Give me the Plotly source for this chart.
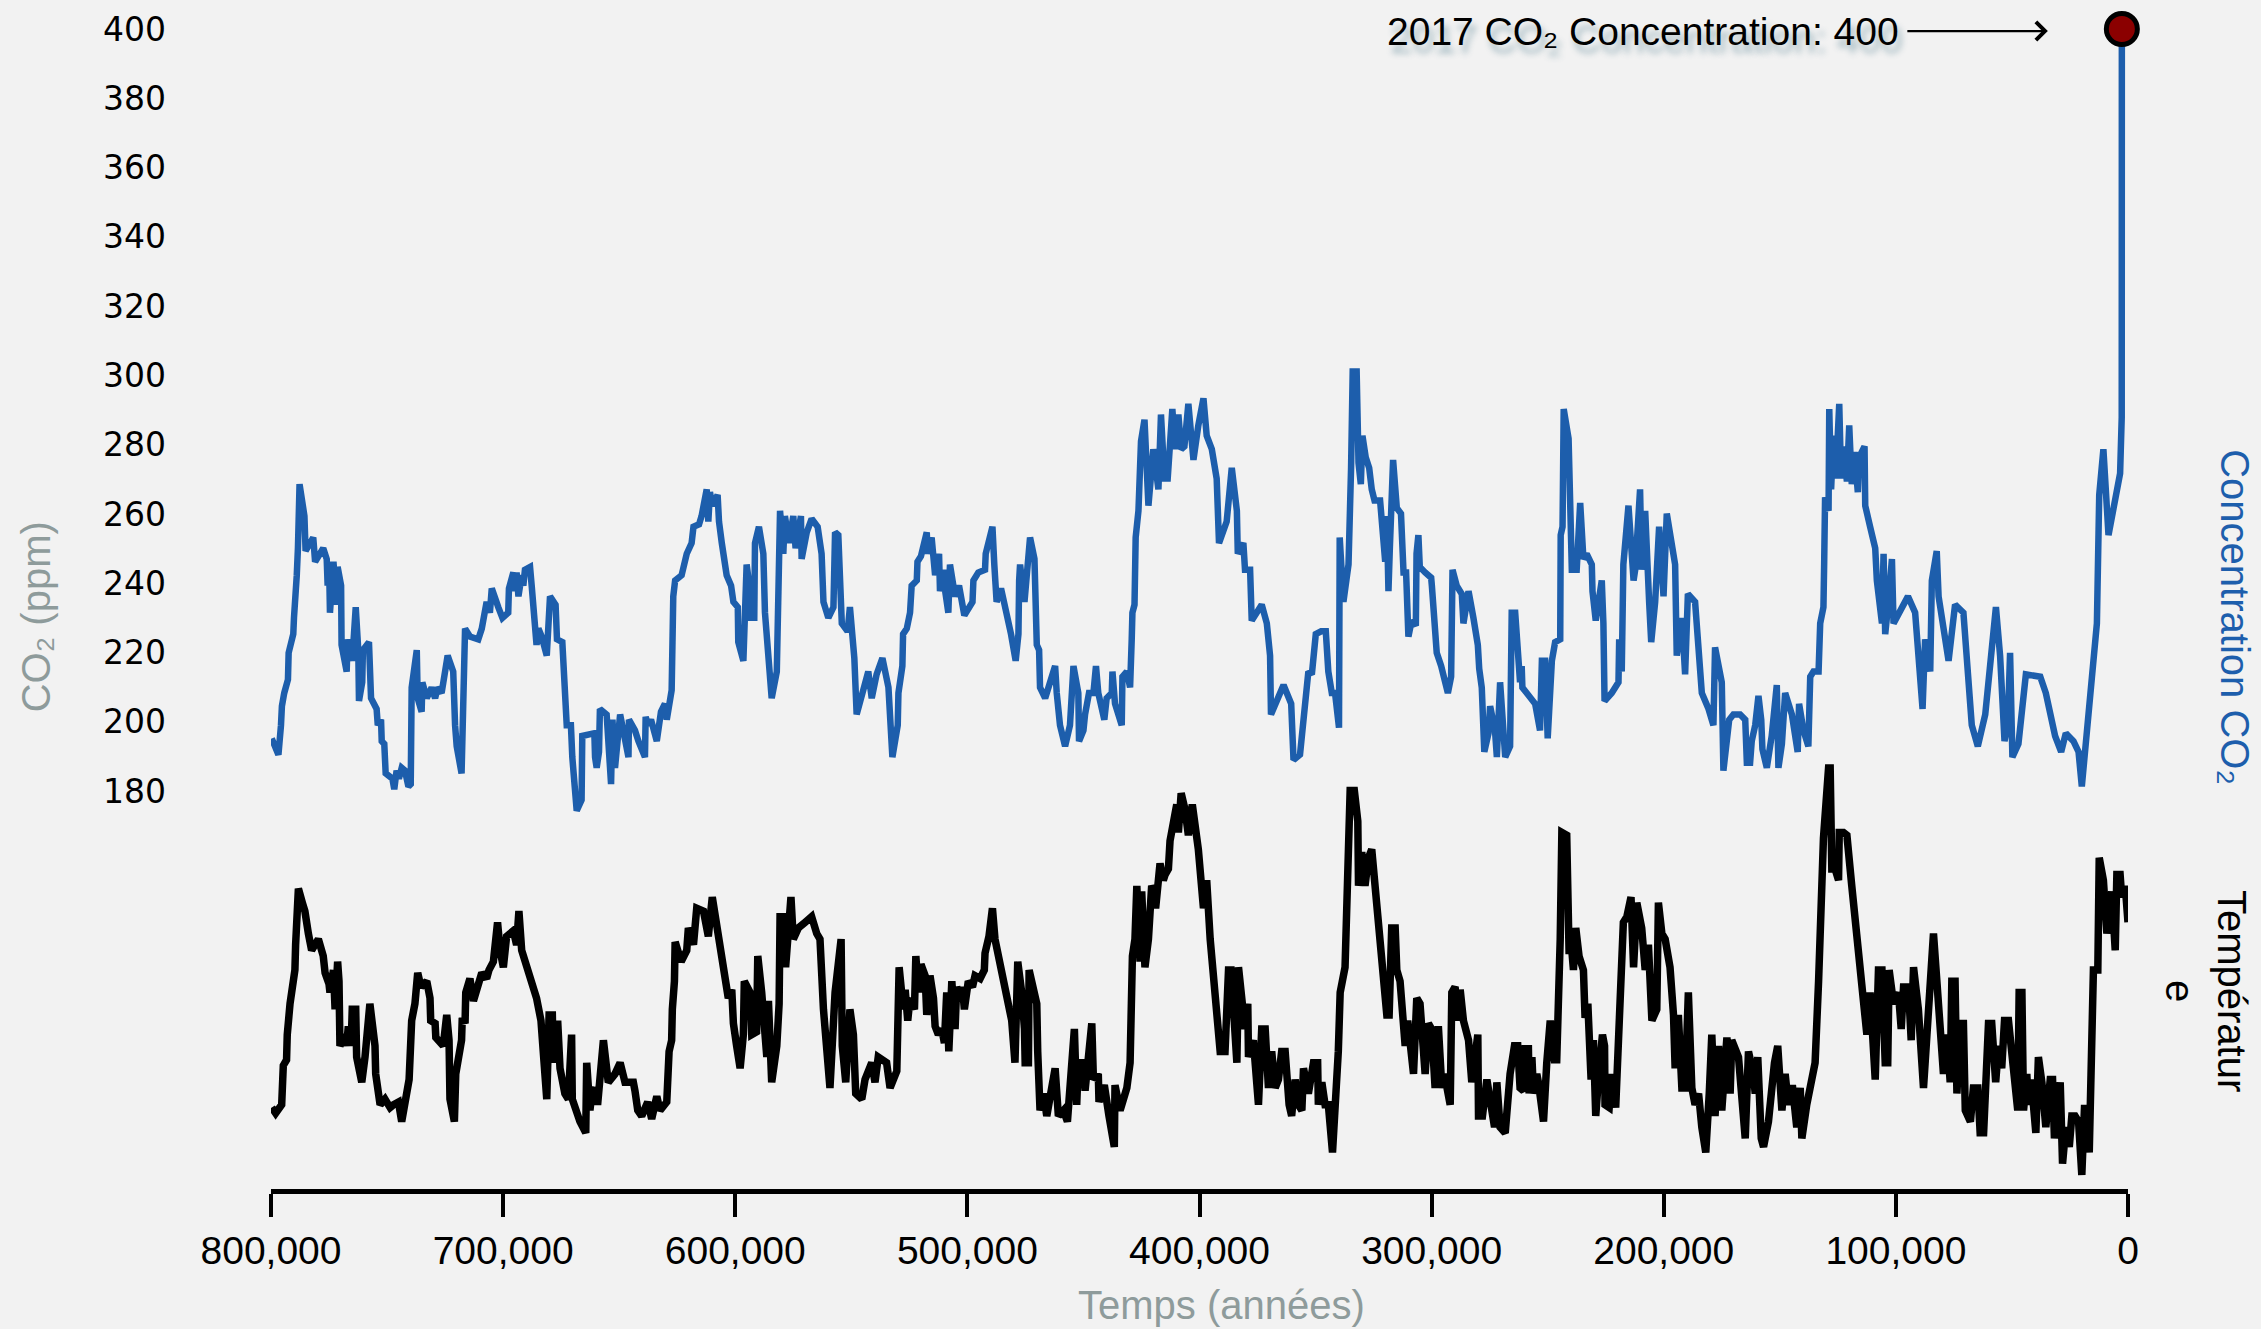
import plotly.graph_objects as go

# ---------------- DATA ----------------
co2_years = [
    799700, 796800, 795700, 795300, 794300, 792700, 792400, 791000, 790400, 790100,
    789400, 788900, 788400, 787700, 785600, 785100, 781800, 781000, 777500, 776000,
    775600, 775000, 774600, 773100, 771700, 771300, 769800, 769600, 767400, 767000,
    765000, 763500, 762400, 762100, 760700, 760400, 757800, 756900, 754500, 754000,
    752600, 752300, 751200, 750600, 747700, 746900, 745900, 744900, 743700, 742300,
    740800, 739800, 739400, 737200, 736800, 735100, 734800, 732900, 730800, 729300,
    728200, 726500, 723900, 721500, 720700, 720000, 717900, 716900, 716400, 714300,
    710700, 709200, 707100, 705700, 704900, 702100, 700300, 697800, 697500, 695600,
    695200, 694200, 693400, 692000, 691300, 690600, 688400, 687700, 686300, 685600,
    684800, 683400, 681200, 679800, 677400, 676800, 674500, 673900, 672600, 670800,
    670200, 668300, 666200, 665900,
    662600, 660700, 660400, 659700, 658700, 658300, 655400, 653500, 652900, 651800,
    649600, 646000, 645800, 643200, 641700, 638900, 638600, 637400, 636300, 633800,
    632000, 630300, 629500, 627400, 626700, 625900, 623100, 620900, 618800, 618000,
    615600, 614500, 612300, 611600, 610900, 609900, 607600, 607000, 605800, 603700,
    601800, 600800, 598900, 598700, 596500, 595100, 593600, 593200, 591800, 591500,
    589800, 587900, 587200, 584300, 582100, 580700, 579300, 578600, 576800, 575000,
    574000, 571700, 571400, 569200, 567100, 564500, 562800, 562000, 559900, 557700,
    557000, 555600, 554100, 551600, 550600, 549500, 548700, 547700, 545200, 542700,
    541200, 539100, 536600,
    535500, 534000, 532300, 530000, 529700, 528000, 527700, 526100, 524700, 524000,
    521800, 521500, 520000, 517500, 517100, 515400, 513900, 512200, 511800, 510300,
    509900, 508200, 507500, 506000, 505300, 503600, 501300, 497800, 497400, 495300,
    492400, 492100, 490900, 489200, 488400, 487400, 485500, 483000, 481200, 479200,
    478000, 477700, 477300, 475400, 473000, 471100, 470100, 469100, 468700, 466500,
    462200, 461500, 460100, 457900, 455800, 454300, 452200, 451900, 450000, 449300,
    447600, 445700, 444600, 443600, 441000, 440000, 437800, 437500, 436400, 433500,
    433200, 431300, 429900, 429200, 428900, 428000, 427500, 426300, 425200, 423700,
    422000, 419900, 417700, 416600, 415100, 413700, 411700, 410500, 409100, 407900,
    406500, 404800, 402600, 400500,
    398300, 396900, 394700, 392600, 391600, 388300, 386100, 383900, 383500, 381100,
    380400, 378200, 377500, 373200, 371000, 369600, 369200, 363800, 360500, 359500,
    356700, 353100, 351600, 349900, 347600, 345600, 344500, 343000, 341600, 339900,
    339600, 338000, 335800, 334700, 334000, 332300, 331500, 330500, 329800, 328400,
    326900, 325800, 324600, 322200, 321200, 320000, 319300, 318600, 318000, 316600,
    315000, 313200, 312100, 311000, 310000, 308600, 306800, 306500, 305700, 305100,
    302800, 300200, 299900, 299400, 297800, 295900, 293000, 291600, 291000, 289200,
    287000, 286300, 284100, 282000, 280100, 279500, 278400, 277300, 275500, 274800,
    272700, 271900, 270500,
    268300, 266200, 265500, 264000, 261900, 261200, 260900, 257600, 255400, 253300,
    252500, 251100, 250000, 248200, 246800, 244600, 244400, 243600, 243100, 241000,
    240300, 239600, 237500, 236000, 234600, 233200, 231000, 230700, 229300, 226700,
    226000, 225500, 222400, 219500, 219200, 218100, 217400, 215200, 213000, 212300,
    210200, 209500, 208000, 206600, 206300, 205400, 203700, 202000, 200100, 198700,
    195100, 194400, 192200, 190800, 189600, 186500, 183600, 180700, 178600, 177900,
    175000, 174300, 171800, 170000, 167100, 164900, 164200, 162800, 162100, 160600,
    159200, 158000, 157500, 155600, 153500, 151300, 150600, 149100, 147700, 144800,
    142300, 141700, 139800, 137700, 136900, 135500,
    133300, 132600, 131200, 130900, 130500, 129000, 128700, 127900, 126900, 125900,
    124400, 123600, 122600, 121100, 120100, 119000, 117800, 116400, 115800, 113500,
    113200, 111100, 108900, 108200, 106000, 105300, 104600, 103200, 101700, 101000,
    94800, 91700, 88500, 87400, 85200, 84500, 82400, 81600, 77300, 74500,
    70900, 67300, 64700, 61500, 59400, 56900, 55100, 53200, 51800, 50800,
    49800, 47200, 44000, 37800, 35400, 31400, 28800, 26800, 23500, 21300,
    19900, 17000, 13400, 12400, 10600, 8400, 5500, 3400, 2700, 2650,
]
co2_ppm = [
    195.2, 190.5, 199.0, 204.5, 208.3, 212.2, 219.9, 223.0, 225.3, 230.0,
    234.6, 242.3, 250.1, 268.6, 259.4, 249.3, 253.2, 246.2, 250.1, 247.0,
    239.3, 246.2, 231.5, 246.2, 233.8, 244.7, 239.3, 222.2, 214.5, 223.8,
    217.6, 233.1, 220.7, 206.0, 211.4, 220.7, 223.0, 206.8, 203.7, 199.0,
    200.6, 194.4, 193.6, 185.1, 183.6, 180.5, 185.9, 183.6, 186.7, 185.9,
    181.3, 182.0, 209.9, 220.7, 206.8, 202.9, 211.4, 206.8, 209.9, 206.8,
    209.9, 208.3, 219.1, 214.5, 199.0, 192.9, 185.1, 208.3, 226.9, 224.6,
    223.8, 226.9, 234.6, 231.5, 238.5, 233.1, 230.0, 231.5, 238.5, 243.1,
    237.7, 243.1, 236.2, 242.3, 239.3, 243.9, 244.7, 239.3, 226.9, 222.2,
    226.9, 224.6, 219.1, 236.2, 233.8, 223.8, 223.0, 213.0, 199.0, 199.0,
    189.8, 174.3, 177.4, 195.9,
    196.7, 196.7, 189.8, 186.7, 191.3, 203.7, 202.1, 182.0, 200.6, 186.7,
    202.1, 189.8, 200.6, 197.5, 194.4, 189.8, 201.4, 199.0, 200.6, 194.4,
    202.9, 205.2, 200.6, 209.1, 236.2, 240.8, 242.3, 248.5, 251.6, 256.3,
    257.0, 259.4, 267.1, 257.8, 266.3, 262.4, 265.5, 257.8, 251.6, 242.3,
    239.3, 234.6, 233.1, 223.0, 217.6, 245.4, 237.7, 230.0, 230.0, 251.6,
    256.3, 248.5, 231.5, 206.8, 214.5, 260.9, 248.5, 259.4, 251.6, 259.4,
    250.1, 259.4, 247.0, 254.7, 258.6, 256.3, 248.5, 234.6, 230.0, 233.1,
    254.7, 253.9, 228.4, 226.1, 233.1, 223.8, 218.4, 202.1, 208.3, 214.5,
    206.8, 213.7, 218.4,
    214.5, 209.9, 189.8, 199.0, 208.3, 216.1, 225.3, 226.9, 231.5, 239.3,
    240.8, 246.2, 247.8, 254.7, 248.5, 253.2, 242.3, 248.5, 237.7, 243.9,
    239.3, 231.5, 245.4, 239.3, 236.2, 239.3, 230.7, 234.6, 240.8, 243.1,
    243.9, 248.5, 251.6, 256.3, 245.4, 234.6, 238.5, 231.5, 225.3, 217.6,
    225.3, 240.8, 245.4, 234.6, 253.2, 247.0, 222.2, 220.7, 209.9, 206.8,
    216.1, 208.3, 199.0, 192.9, 199.0, 216.1, 208.3, 194.4, 197.5, 202.1,
    208.3, 208.3, 216.1, 208.3, 200.6, 206.8, 208.3, 214.5, 205.2, 199.0,
    213.0, 214.5, 209.9, 223.8, 231.5, 233.8, 253.2, 260.9, 281.0, 287.2,
    262.4, 278.7, 267.1, 288.7, 270.2, 270.2, 290.3, 278.7, 288.7, 278.7,
    279.5, 291.8, 275.6, 285.6,
    293.4, 282.6, 278.7, 270.2, 251.6, 257.8, 273.3, 260.9, 248.5, 251.6,
    243.9, 243.9, 229.2, 233.8, 228.4, 219.1, 202.1, 210.6, 205.2, 189.0,
    190.5, 214.5, 213.7, 225.3, 226.1, 226.1, 214.5, 208.3, 208.3, 198.3,
    253.2, 234.6, 245.4, 273.3, 301.1, 301.1, 274.8, 268.6, 282.6, 276.4,
    273.3, 267.1, 263.9, 263.9, 256.3, 246.2, 259.4, 237.7, 250.1, 275.6,
    261.7, 260.1, 243.1, 243.1, 224.6, 229.2, 227.7, 248.5, 253.9, 244.7,
    243.1, 241.6, 239.3, 233.1, 219.9, 216.1, 208.3, 213.0, 243.9, 239.3,
    236.9, 228.4, 237.7, 230.0, 222.2, 215.3, 209.9, 191.3, 196.7, 204.5,
    197.5, 189.8, 211.4,
    189.8, 192.9, 231.5, 231.5, 211.4, 216.1, 209.9, 206.8, 205.2, 197.5,
    217.6, 217.6, 195.2, 217.6, 223.0, 223.8, 253.9, 256.3, 290.3, 281.8,
    251.6, 243.9, 243.9, 263.2, 247.0, 248.5, 245.4, 237.7, 229.2, 240.8,
    228.4, 206.0, 208.3, 211.4, 223.8, 214.5, 245.4, 262.4, 240.8, 243.9,
    267.1, 243.9, 260.9, 245.4, 234.6, 223.0, 234.6, 256.3, 236.2, 260.1,
    245.4, 219.1, 230.0, 213.7, 236.9, 234.6, 208.3, 203.7, 199.0, 221.5,
    211.4, 185.9, 200.6, 202.1, 202.1, 200.6, 188.2, 188.2, 194.4, 199.0,
    207.5, 200.6, 192.1, 186.7, 195.9, 210.6, 186.7, 193.6, 208.3, 202.1,
    191.3, 205.2, 197.5, 192.9, 213.0, 214.5,
    214.5, 228.4, 233.1, 245.4, 264.8, 260.9, 290.3, 267.1, 282.6, 270.2,
    291.8, 270.2, 279.5, 269.4, 285.6, 268.6, 277.9, 266.3, 276.4, 279.5,
    262.4, 256.3, 250.1, 240.8, 228.4, 248.5, 225.3, 234.6, 247.0, 228.4,
    236.2, 231.5, 203.7, 223.8, 214.5, 240.8, 249.3, 236.2, 217.6, 233.8,
    231.5, 199.0, 192.9, 202.1, 214.5, 233.1, 219.1, 194.4, 199.0, 219.9,
    189.8, 193.6, 213.7, 213.0, 208.3, 195.9, 191.3, 196.7, 194.4, 191.3,
    181.3, 203.7, 228.4, 265.5, 278.7, 253.9, 264.0, 271.7, 288.0, 400.0,
]

temp_years = [
    799700, 798000, 795400, 794700, 793300, 793000, 791800, 789700, 789400, 788200,
    786500, 785400, 783900, 782500, 781800, 779600, 777500, 776700, 775000, 774600,
    773100, 772400, 771300, 770700, 770300, 768100, 767400, 766700, 765500, 765000,
    763500, 763100, 760900, 759500, 757400, 755200, 754900, 753000, 750900, 748700,
    747300, 745100, 743700, 741600, 740500, 739400, 738000, 736800, 735400, 732900,
    731500, 731200, 729300, 729000, 727200, 725800, 724300, 723300, 722900, 721000,
    720400, 719300, 717900, 717600, 716400, 716100, 714300, 712800, 710700, 709200,
    707100, 706100, 704200, 703500, 702400, 701300, 699900, 698500, 695600, 694200,
    693200, 692000, 690600, 687700, 685600, 683700, 682700, 681200, 680200, 678800,
    678400, 676500, 675500, 673400, 671900, 670500, 670200, 668300, 666900,
    664400, 664000, 662600, 661800, 660400, 659300, 656800, 654700, 651800, 649600,
    647500, 643900, 643200, 642000, 640300, 637700, 636000, 633800, 632400, 629500,
    628500, 627400, 627100, 626200, 625900, 623300, 620900, 620200, 618000, 616600,
    613700, 611600, 609900, 607600, 605800, 604400, 603000, 601500, 600800, 599400,
    597900, 596500, 596100, 593600, 592900, 590800, 590300, 588600, 587200, 586400,
    585700, 584300, 582100, 581100, 580700, 579300, 578300, 576000, 575000, 572800,
    569900, 567100, 564900, 563500, 562000, 559200, 557000, 554400, 553900, 552400,
    550600, 549100, 548100, 545500, 544100, 541200, 539800, 538400, 534800, 533300,
    530400, 529700, 529400, 527600, 526800, 525700, 524700, 522800, 522200, 521100,
    520000, 518200, 517500, 516100, 514600, 513900, 512500, 511000, 509900, 508900,
    508000, 506700, 505300, 504600, 503100, 502100, 501300, 499600, 497800, 496700,
    494500, 492700, 492400, 490700, 489200, 488100, 486600, 484500, 482600, 480900,
    479500, 478300, 476600, 475400, 475100, 473700, 473400, 470100, 469700, 468700,
    467200, 465800, 462200, 460800, 458600, 456900, 453900, 452900, 452200, 450000,
    449300, 446400, 445700, 443600, 443300, 441000, 439000, 436700, 436400, 434200,
    431300, 429900, 428900, 427800, 427000, 425600, 424900, 423500, 422000, 420600,
    419400, 418900, 417000, 415600, 414800, 413400, 412700, 409800, 409100, 407900,
    406200, 404800, 403100,
    401900, 400500, 398300, 396900, 395400, 391100, 389000, 387500, 386400, 385400,
    383900, 383200, 381100, 380400, 379200, 378900, 376800, 374600, 373200, 371700,
    370300, 368900, 367400, 366000, 364600, 363100, 361400, 360300, 358800, 357400,
    355900, 355200, 353100, 350900, 349100, 348800, 347300, 345900, 344500, 342700,
    340200, 339400, 337300, 335800, 335100, 333300, 331800, 331500, 330100, 328700,
    327200, 325800, 323600, 321500, 319300, 318300, 317200, 315700, 315000, 313600,
    312100, 311400, 310300, 308800, 307800, 306400, 305000, 302800, 301400, 300000,
    298500, 297100, 295600, 294500, 292000, 291300, 289900, 288700, 287700, 286300,
    284100, 282700, 280100, 279800, 278100, 276200, 274800, 272900, 271900, 270500,
    268300,
    266200, 264300, 262900, 261900, 260400, 259700, 258300, 258000, 256800, 256100,
    254700, 254000, 251800, 250400, 248900, 247100, 246100, 244600, 243900, 241800,
    240800, 239600, 238900, 237900, 236500, 234600, 233900, 232700, 231300, 230300,
    229300, 227800, 226400, 225500, 225300, 223500, 222400, 220700, 218800, 217400,
    215900, 214100, 213000, 211600, 209500, 208000, 206600, 205100, 203000, 202300,
    200800, 199400, 197300, 195800, 195100, 193700, 192200, 190800, 189400, 187900,
    186500, 185000, 183600, 181900, 180400, 179300, 177900, 176400, 175000, 172800,
    171400, 170700, 167800, 166100, 164900, 163500, 161400, 160600, 159500, 158000,
    157000, 154900, 153500, 152300, 150900, 149100, 147700, 146300, 144600, 142700,
    141200, 140500, 138400, 136200, 134800, 133300, 132200, 131200,
    129000, 128300, 127600, 126200, 124700, 124400, 122600, 121100, 119000, 116100,
    112500, 111100, 109600, 108900, 107500, 106000, 104600, 103500, 102900, 101000,
    98900, 97700, 96700, 94600, 93400, 92400, 90300, 88100, 83800, 79500,
    78000, 76600, 75900, 74500, 73700, 72300, 70900, 70100, 67900, 66600,
    64700, 63700, 62200, 60100, 58700, 57000, 55800, 54400, 53200, 51500,
    47500, 46900, 45700, 45000, 43600, 42900, 41700, 39700, 38600, 37100,
    35400, 33500, 32500, 31700, 29200, 28200, 26800, 25300, 24200, 22800,
    21300, 19900, 18700, 16700, 14900, 13000, 12400, 10600, 9100, 7000,
    5500, 4800, 3400, 2700, 1200, 0,
]
temp_anomaly = [
    -7.6, -7.8, -7.5, -6.1, -5.9, -5.0, -3.9, -2.7, -1.8, 0.2,
    -0.3, -0.6, -1.4, -2.0, -1.9, -1.6, -2.2, -2.8, -3.2, -3.5,
    -2.7, -4.1, -2.4, -3.1, -5.4, -5.0, -5.4, -4.7, -5.4, -4.1,
    -4.1, -5.8, -6.7, -5.8, -3.9, -5.4, -6.4, -7.5, -7.3, -7.6,
    -7.5, -7.4, -8.1, -7.3, -6.6, -4.5, -3.9, -2.8, -3.3, -3.1,
    -3.7, -4.5, -4.6, -5.1, -5.3, -5.4, -4.3, -5.2, -7.3, -8.1,
    -6.4, -5.7, -5.2, -4.4, -4.6, -3.5, -3.0, -3.8, -3.3, -2.8,
    -3.0, -2.7, -2.4, -1.8, -1.0, -2.0, -2.6, -1.5, -1.3, -1.8,
    -0.6, -2.0, -2.4, -3.1, -3.7, -4.5, -5.8, -7.3, -4.3, -4.3,
    -6.0, -4.5, -6.2, -7.1, -7.3, -5.0, -7.3, -7.9, -8.1,
    -8.5, -6.0, -7.7, -7.1, -6.9, -7.5, -5.2, -6.7, -6.4, -6.0,
    -6.7, -6.7, -7.0, -7.7, -7.9, -7.4, -8.0, -7.2, -7.7, -7.4,
    -5.6, -5.2, -4.1, -3.1, -1.7, -2.4, -2.0, -1.2, -1.8, -0.5,
    -0.6, -1.5, -0.1, -1.4, -2.2, -3.3, -3.7, -3.4, -4.6, -5.4,
    -6.2, -5.0, -3.1, -3.5, -5.0, -4.9, -2.2, -3.5, -4.8, -5.8,
    -3.8, -6.7, -5.4, -3.9, -0.8, -0.8, -2.6, -0.1, -1.6, -1.2,
    -1.0, -0.8, -1.4, -1.6, -4.1, -6.9, -3.5, -1.6, -5.4, -6.7,
    -4.1, -5.0, -7.1, -7.3, -6.6, -6.0, -6.7, -5.8, -6.0, -6.9,
    -6.3, -4.5, -2.6, -4.1, -3.4, -4.5, -3.7, -4.1, -2.2, -3.5,
    -2.5, -2.9, -4.3, -2.9, -3.7, -4.7, -5.0, -4.8, -5.3, -3.5,
    -5.6, -3.1, -4.8, -3.3, -3.7, -3.3, -4.1, -3.1, -3.3, -2.9,
    -3.0, -2.7, -2.1, -1.5, -0.5, -1.6, -2.2, -2.9, -3.5, -4.5,
    -6.0, -2.4, -3.5, -4.8, -6.0, -6.0, -2.7, -3.9, -5.6, -7.7,
    -7.1, -7.9, -6.2, -7.9, -7.7, -8.1, -4.8, -7.5, -6.0, -6.0,
    -7.0, -4.6, -6.6, -6.4, -7.4, -6.8, -7.9, -9.0, -6.8, -7.7,
    -6.9, -6.0, -2.2, -1.6, 0.3, -2.4, 0.1, -2.6, -1.6, 0.3,
    0.1, -0.5, 1.1, 0.5, 0.7, 0.9, 1.9, 3.2, 2.2, 3.6,
    3.0, 2.1, 3.2,
    2.4, 1.6, -0.5, 0.5, -1.6, -5.6, -5.6, -2.7, -2.7, -4.6,
    -6.0, -2.6, -4.1, -4.8, -3.9, -5.8, -5.2, -7.5, -4.8, -4.8,
    -6.9, -5.6, -6.9, -6.6, -5.6, -5.6, -7.5, -7.9, -6.6, -7.5,
    -7.7, -6.2, -7.1, -6.0, -6.0, -7.5, -6.7, -7.5, -7.5, -9.2,
    -5.6, -3.5, -2.6, 1.3, 3.7, 3.7, 2.6, 0.3, 1.5, 0.3,
    1.3, 1.6, -0.3, -2.2, -4.3, -4.3, -1.2, -1.2, -2.7, -3.1,
    -4.5, -5.4, -4.5, -5.4, -6.4, -3.7, -3.9, -6.4, -4.6, -4.8,
    -6.9, -4.7, -6.9, -6.4, -7.5, -3.5, -3.3, -4.5, -3.4, -4.5,
    -5.2, -6.7, -5.0, -7.9, -7.9, -6.6, -7.3, -8.3, -6.7, -8.3,
    -8.5,
    -6.4, -5.4, -5.4, -6.9, -7.0, -5.5, -5.5, -7.1, -5.8, -7.1,
    -6.4, -6.7, -8.1, -6.0, -4.5, -5.9, -5.9, -1.6, 2.2, 2.1,
    -2.0, -2.0, -2.7, -1.2, -2.2, -2.7, -4.4, -3.9, -6.6, -5.2,
    -7.9, -6.2, -5.0, -5.4, -7.5, -7.6, -6.4, -7.6, -4.5, -1.0,
    -0.8, -0.1, -2.6, -0.3, -1.2, -2.7, -1.8, -4.5, -4.1, -0.3,
    -1.4, -1.6, -2.6, -4.3, -6.2, -4.3, -6.9, -6.9, -3.5, -6.9,
    -7.5, -7.1, -8.3, -9.2, -7.1, -5.0, -7.9, -5.4, -7.7, -5.1,
    -7.1, -5.2, -5.8, -7.5, -8.7, -5.6, -6.4, -7.1, -5.8, -8.7,
    -9.0, -8.1, -6.7, -6.0, -5.4, -7.7, -6.4, -7.5, -6.8, -8.3,
    -6.9, -8.7, -7.5, -6.6, -6.0, -3.1, -0.8, 2.0,
    4.5, 4.5, 0.9, 0.9, 0.5, 2.2, 2.2, 2.1, 0.3, -2.0,
    -5.0, -3.5, -6.6, -6.6, -2.7, -2.7, -6.0, -6.0, -2.7, -3.9,
    -3.5, -4.8, -3.3, -3.3, -5.2, -2.6, -4.1, -6.9, -1.4, -6.4,
    -5.0, -6.7, -3.1, -3.1, -7.1, -4.6, -4.6, -7.7, -8.1, -6.9,
    -6.9, -8.5, -8.5, -4.6, -4.6, -6.7, -5.4, -6.2, -4.5, -4.5,
    -7.7, -3.5, -3.5, -7.7, -6.4, -7.5, -6.6, -8.5, -5.8, -6.7,
    -8.3, -6.6, -6.6, -8.7, -6.7, -9.6, -8.3, -9.0, -7.9, -7.9,
    -8.1, -10.0, -7.5, -9.2, -2.7, -2.7, 1.3, 0.5, -1.4, 0.1,
    -2.0, 0.7, 0.7, -0.1, 0.3, -1.0,
]

x_tick_vals = [800000, 700000, 600000, 500000, 400000, 300000, 200000, 100000, 0]
x_tick_text = ["800,000", "700,000", "600,000", "500,000", "400,000",
               "300,000", "200,000", "100,000", "0"]
y_tick_vals = [180, 200, 220, 240, 260, 280, 300, 320, 340, 360, 380, 400]

label_2017 = "2017 CO₂ Concentration: 400"
x_title = "Temps (années)"
y_title = "CO₂ (ppm)"
co2_title = "Concentration CO₂"
temp_title = "Températur<br>e"

# ---------------- STYLE ----------------
BG = "#f2f2f2"
BLUE = "#1d5eac"
GRAY = "#8e9b9b"
SANS = "Liberation Sans, Arial, sans-serif"

fig = go.Figure()
fig.add_trace(go.Scatter(
    x=co2_years, y=co2_ppm, mode="lines",
    line=dict(color=BLUE, width=6.5), yaxis="y", hoverinfo="skip",
))
fig.add_trace(go.Scatter(
    x=temp_years, y=temp_anomaly, mode="lines",
    line=dict(color="black", width=7.5), yaxis="y2", hoverinfo="skip",
))
fig.add_trace(go.Scatter(
    x=[co2_years[-1]], y=[co2_ppm[-1]], mode="markers",
    marker=dict(size=31, color="#8b0000", line=dict(color="black", width=5)),
    yaxis="y", cliponaxis=False, hoverinfo="skip",
))

fig.update_layout(
    width=2261, height=1329,
    paper_bgcolor=BG, plot_bgcolor=BG,
    margin=dict(l=271, r=133, t=10, b=140),
    showlegend=False,
    font=dict(family=SANS, color="black"),
    xaxis=dict(
        range=[800000, 0], tickvals=x_tick_vals, ticktext=x_tick_text,
        showgrid=False, zeroline=False, showline=True, linecolor="black",
        linewidth=5, ticks="outside", ticklen=23, tickwidth=4, tickcolor="black",
        tickfont=dict(family=SANS, size=39, color="black"),
    ),
    yaxis=dict(
        range=[65.1, 405.5], tickvals=y_tick_vals,
        showgrid=False, zeroline=False, showline=False, ticks="",
        tickfont=dict(family="DejaVu Sans, Verdana, sans-serif", size=33, color="black"),
        ticklabelstandoff=104,
    ),
    yaxis2=dict(range=[-10.5, 31.5], overlaying="y", visible=False),
    annotations=[
        dict(
            x=co2_years[-1], y=co2_ppm[-1], xref="x", yref="y",
            text=label_2017, showarrow=True, arrowhead=4, arrowsize=1.6,
            arrowwidth=2.2, arrowcolor="black", ax=-405, ay=0, xshift=-74, yshift=-2,
            borderpad=8,
            font=dict(family=SANS, size=39, color="black",
                      shadow="4px 8px 6px rgba(60,110,130,0.45)"),
        ),
        dict(
            x=-0.1265, y=0.485, xref="paper", yref="paper", text=y_title,
            textangle=-90, showarrow=False, xanchor="center", yanchor="middle",
            font=dict(family=SANS, size=40, color=GRAY),
        ),
        dict(
            x=0.512, y=-0.0984, xref="paper", yref="paper", text=x_title,
            showarrow=False, xanchor="center", yanchor="middle",
            font=dict(family=SANS, size=40, color=GRAY),
        ),
        dict(
            x=1.0576, y=0.485, xref="paper", yref="paper", text=co2_title,
            textangle=90, showarrow=False, xanchor="center", yanchor="middle",
            font=dict(family=SANS, size=40, color=BLUE),
        ),
        dict(
            x=1.042, y=0.168, xref="paper", yref="paper", text=temp_title,
            textangle=90, showarrow=False, align="center",
            xanchor="center", yanchor="middle",
            font=dict(family=SANS, size=40, color="black"),
        ),
    ],
)

assert len(co2_years) == len(co2_ppm)
assert len(temp_years) == len(temp_anomaly)

fig.write_html(
    "out.html",
    config={"displayModeBar": False},
    post_script="document.body.style.margin='0px';document.body.style.background='#f2f2f2';",
)
